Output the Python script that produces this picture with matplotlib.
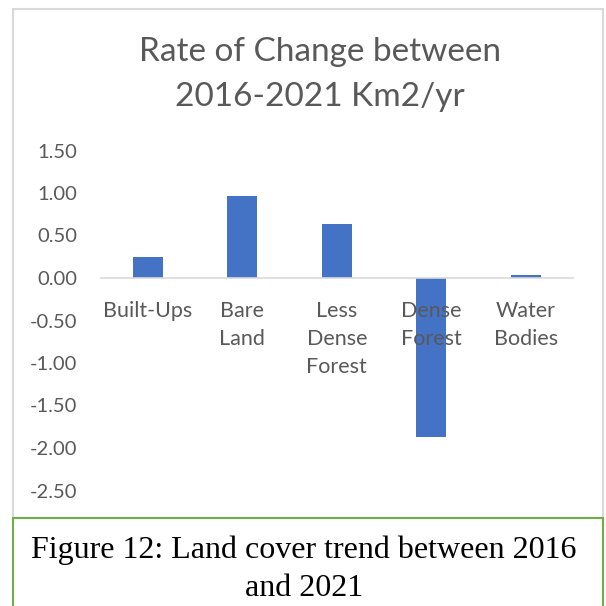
import matplotlib
matplotlib.use("Agg")
import matplotlib.pyplot as plt
from matplotlib.patches import Rectangle

categories = ["Built-Ups", "Bare\nLand", "Less\nDense\nForest", "Dense\nForest", "Water\nBodies"]
values = [0.25, 0.96, 0.63, -1.87, 0.03]
yticks = [1.5, 1.0, 0.5, 0.0, -0.5, -1.0, -1.5, -2.0, -2.5]
title = "Rate of Change between\n2016-2021 Km2/yr"
caption = "Figure 12: Land cover trend between 2016\nand 2021"

W = H = 606
fig = plt.figure(figsize=(6.06, 6.06), dpi=100)
fig.patch.set_facecolor("white")

def fx(px):
    return px / W

def fy(py):
    return 1 - py / H

# chart frame
fig.patches.append(Rectangle((fx(13), fy(518)), fx(603) - fx(13), fy(9) - fy(518),
                             transform=fig.transFigure, fill=False,
                             edgecolor="#d9d9d9", linewidth=1.5, zorder=0))
# caption frame
fig.patches.append(Rectangle((fx(13), fy(640)), fx(603) - fx(13), fy(518) - fy(640),
                             transform=fig.transFigure, fill=False,
                             edgecolor="#70ad47", linewidth=1.5, zorder=0, clip_on=False))

ax = fig.add_axes([fx(100.7), fy(490.5), fx(573) - fx(100.7), fy(150.5) - fy(490.5)])
ax.bar(range(len(values)), values, width=0.317, color="#4472c4", zorder=1)
ax.set_xlim(-0.5, len(values) - 0.5)
ax.set_ylim(-2.5, 1.5)
ax.set_yticks(yticks)
ax.set_yticklabels([f"{v:.2f}" for v in yticks])
ax.set_xticks(range(len(categories)))
ax.set_xticklabels(categories)
for s in ["top", "right", "left"]:
    ax.spines[s].set_visible(False)
ax.spines["bottom"].set_position(("data", 0))
ax.spines["bottom"].set_color("#d9d9d9")
ax.spines["bottom"].set_linewidth(1.2)
ax.tick_params(axis="both", length=0)
ax.tick_params(axis="y", pad=17, labelsize=14.5, labelcolor="#595959")
ax.tick_params(axis="x", pad=16.5, labelsize=15.5, labelcolor="#595959")
for lab in ax.get_xticklabels() + ax.get_yticklabels():
    lab.set_fontfamily("Lato")
for lab in ax.get_xticklabels():
    lab.set_verticalalignment("top")
    lab.set_linespacing(1.5)
ax.patch.set_alpha(0)

fig.text(fx(320), fy(74.5), title, ha="center", va="center", fontsize=24,
         color="#595959", family="Lato", linespacing=1.64)
fig.text(fx(304), fy(569), caption, ha="center", va="center", fontsize=23,
         color="black", family="Liberation Serif", linespacing=1.41)

fig.savefig("out.png", dpi=100)
